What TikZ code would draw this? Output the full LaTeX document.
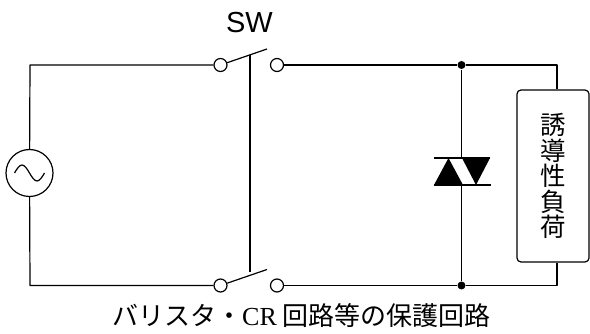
\documentclass[tikz,border=0pt]{standalone}
\usepackage{fontspec}
\setmainfont{Liberation Serif}
\setsansfont{Liberation Sans}
\newfontfamily\jpsans{Noto Sans CJK JP}
\usetikzlibrary{positioning,calc}
\tikzset{
term/.style={draw,circle,inner sep=0pt,minimum size=13pt,fill=white},
jdot/.style={fill,circle,inner sep=0pt,minimum size=8pt}
}
\newcommand \myswitch[3]
{
\node[term] (#1L) at (220.5,#2) {};
\node[term] (#1R) at (277,#2) {};
\coordinate (#1tip) at (267,#2-16);
\coordinate (#1g) at (250,#3);
\draw (#1L) -- (#1tip);
}

\begin{document}
\begin{tikzpicture}[x=1pt, y=-1pt, line width=1.2pt, line join=round]
\useasboundingbox (0,0) rectangle (590,334);
% source
\node[draw,circle,inner sep=0pt,minimum size=47pt] (ac) at (29.5,173) {};
\draw ($(ac)+(-15,0)$) sin ($(ac)+(-7.5,-8)$) cos (ac) sin ($(ac)+(7.5,8)$) cos ($(ac)+(15,0)$);
% switch
\myswitch{swt}{65}{55.5}
\myswitch{swb}{285.5}{272}
\draw (swtg) -- (swbg);
\node[font=\sffamily\fontsize{29}{29}\selectfont] (swlabel) at (249.5,22.5) {SW};
% wires
\coordinate (tl) at (30,65);
\coordinate (bl) at (30,285.5);
\draw (ac) -- (tl) -- (swtL);
\draw (ac) -- (bl) -- (swbL);
\node[jdot] (dt) at (461.5,65) {};
\node[jdot] (db) at (461.5,285.5) {};
\node[draw,rounded corners=4pt,inner sep=0pt,minimum width=72pt,minimum height=172pt,
  align=center,font=\jpsans\fontsize{25.5}{25.4}\selectfont] (load) at (553,176)
  {誘\\導\\性\\負\\荷};
\coordinate (tr) at (557,65);
\coordinate (br) at (557,285.5);
\draw (swtR) -- (dt) -- (tr) -- (tr |- load.north);
\draw (swbR) -- (db) -- (br) -- (br |- load.south);
% protection element
\coordinate (tv) at (461.5,171.5);
\fill ($(tv)+(-27.5,13.5)$) -- ($(tv)+(1.5,13.5)$) -- ($(tv)+(-13,-13.5)$) -- cycle;
\fill ($(tv)+(0.5,-13.5)$) -- ($(tv)+(28.5,-13.5)$) -- ($(tv)+(14.5,13.5)$) -- cycle;
\draw ($(tv)+(-27.5,-13.5)$) -- ($(tv)+(28.5,-13.5)$);
\draw ($(tv)+(-27.5,13.5)$) -- ($(tv)+(29.5,13.5)$);
\draw (dt) -- ($(tv)+(0,-13.5)$);
\draw (db) -- ($(tv)+(0,13.5)$);
% caption
\node[font=\jpsans\fontsize{26}{26}\selectfont] (caption) at (301.5,316)
  {バリスタ・{\rmfamily CR} 回路等の保護回路};
\end{tikzpicture}
\end{document}
